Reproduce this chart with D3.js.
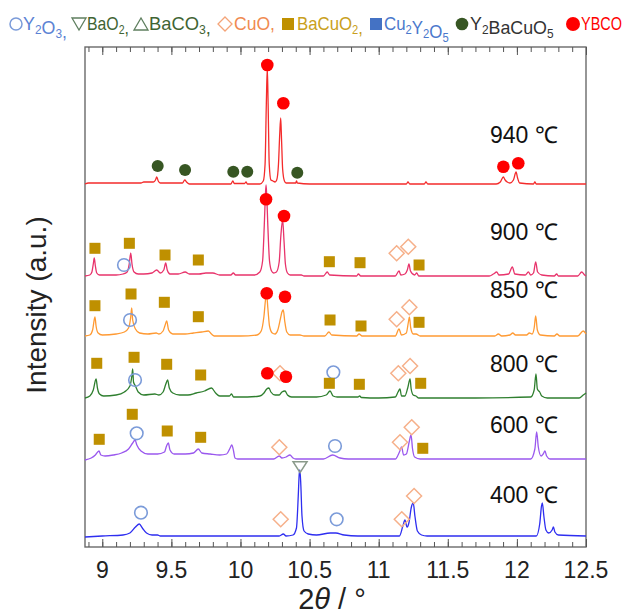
<!DOCTYPE html>
<html><head><meta charset="utf-8">
<script src="https://cdn.jsdelivr.net/npm/d3@7"></script>
<style>body{margin:0;background:#fff}svg{display:block}text{font-family:"Liberation Sans",Arial,sans-serif}</style>
</head><body><svg id="c" width="628" height="615"></svg>
<script>
// ---------- DATA ----------
const temps = ["940", "900", "850", "800", "600", "400"];
const offsets = [363, 271, 211, 149, 88, 11];
const traceColors = ["#f42b2b", "#e8336b", "#ff9a33", "#2f7f2f", "#9a58ee", "#2e2ef0"];
const xTickLabels = [9, 9.5, 10, 10.5, 11, 11.5, 12, 12.5];

const t940 = [[8.875,0],[8.90,1],[9.06,1],[9.28,1],[9.30,2],[9.37,2],[9.385,4],[9.394,7],[9.405,3],[9.42,1],[9.58,1],[9.597,4],[9.61,2],[9.63,0],[9.93,0],[9.945,3],[9.955,0.5],[10.03,0.5],[10.04,2],[10.05,0],[10.14,0],[10.165,3],[10.178,20],[10.187,80],[10.194,116],[10.200,80],[10.208,20],[10.22,4],[10.235,3],[10.25,2],[10.262,4],[10.275,20],[10.284,50],[10.291,66],[10.297,45],[10.305,15],[10.318,3],[10.33,1],[10.40,1],[10.405,3],[10.412,1],[10.5,0],[11.20,0],[11.212,2],[11.225,0],[11.33,0],[11.342,2],[11.355,0],[11.85,0],[11.88,2],[11.902,7],[11.915,4],[11.93,2],[11.95,1],[11.975,4],[11.994,12],[12.005,6],[12.02,1],[12.12,0],[12.13,2],[12.14,0],[12.5,0]];
const t900 = [[8.875,0],[8.91,1],[8.925,4],[8.935,12],[8.942,18],[8.95,10],[8.96,3],[8.98,1],[9.10,1],[9.15,2],[9.18,4],[9.195,12],[9.206,23],[9.215,12],[9.23,4],[9.26,2],[9.30,2],[9.36,3],[9.394,6],[9.42,3],[9.445,6],[9.459,13],[9.47,6],[9.49,2],[9.55,2],[9.60,4],[9.63,2],[9.70,2],[9.75,3],[9.80,3],[9.85,1],[9.93,1],[9.948,3],[9.965,1],[10.10,1],[10.14,4],[10.16,15],[10.172,50],[10.18,80],[10.185,91],[10.19,80],[10.198,50],[10.21,15],[10.225,5],[10.24,3],[10.26,4],[10.28,14],[10.292,40],[10.305,56],[10.315,35],[10.325,12],[10.34,3],[10.36,1],[10.44,1],[10.46,0],[10.60,0],[10.628,4],[10.645,1],[10.84,0],[10.853,2],[10.87,0],[11.12,0],[11.147,5],[11.16,1],[11.19,2],[11.207,6],[11.219,12],[11.23,5],[11.26,1],[11.275,3],[11.29,0],[11.80,0],[11.83,2],[11.854,4],[11.87,1],[11.94,2],[11.967,9],[11.985,2],[12.06,1],[12.083,4],[12.10,1],[12.12,3],[12.136,14],[12.15,4],[12.18,1],[12.27,0],[12.288,2],[12.30,0],[12.44,0],[12.469,4],[12.49,1],[12.5,0]];
const t850 = [[8.875,0],[8.91,1],[8.93,6],[8.947,19],[8.955,10],[8.97,3],[9.00,1],[9.10,2],[9.16,4],[9.19,8],[9.205,18],[9.213,28],[9.22,16],[9.24,7],[9.27,3],[9.33,2],[9.39,3],[9.41,2],[9.44,5],[9.455,11],[9.466,15],[9.48,6],[9.51,2],[9.60,2],[9.66,3],[9.72,4],[9.767,5],[9.79,2],[9.81,0],[10.0,0],[10.12,1],[10.15,5],[10.17,20],[10.182,37],[10.19,40],[10.198,28],[10.21,10],[10.23,3],[10.25,2],[10.27,6],[10.29,18],[10.30,24],[10.31,26],[10.32,15],[10.335,4],[10.36,1],[10.43,1],[10.46,0],[10.61,0],[10.64,4],[10.66,1],[10.84,0],[10.858,2],[10.88,0],[11.12,0],[11.147,7],[11.165,1],[11.20,3],[11.215,14],[11.222,19],[11.232,8],[11.25,2],[11.27,2],[11.30,0],[11.84,0],[11.866,2],[11.89,0],[11.95,1],[11.97,3],[11.99,1],[12.07,1],[12.09,3],[12.11,2],[12.125,8],[12.136,20],[12.148,6],[12.17,1],[12.27,0],[12.29,2],[12.31,0],[12.44,0],[12.48,5],[12.5,2]];
const t800 = [[8.875,0],[8.91,2],[8.935,8],[8.955,19],[8.965,10],[8.98,4],[9.01,2],[9.10,3],[9.16,6],[9.20,12],[9.214,22],[9.22,29],[9.226,16],[9.24,12],[9.26,6],[9.30,3],[9.38,4],[9.41,3],[9.44,6],[9.46,14],[9.473,18],[9.485,10],[9.51,5],[9.56,3],[9.62,3],[9.68,5],[9.74,7],[9.79,10],[9.82,5],[9.85,2],[9.92,2],[9.935,4],[9.95,1],[10.05,1],[10.14,2],[10.17,5],[10.19,9],[10.206,10],[10.22,6],[10.25,3],[10.28,3],[10.30,6],[10.322,7],[10.34,3],[10.37,1],[10.45,1],[10.55,1],[10.62,3],[10.648,7],[10.67,2],[10.70,1],[10.85,1],[10.862,2],[10.875,0.5],[11.0,0],[11.12,1],[11.14,6],[11.154,9],[11.165,2],[11.19,2],[11.21,10],[11.227,19],[11.235,9],[11.25,3],[11.27,2],[11.29,0],[11.70,0],[12.10,1],[12.125,8],[12.138,24],[12.148,9],[12.165,6],[12.18,2],[12.22,0],[12.45,0],[12.48,3],[12.5,5]];
const t600 = [[8.875,-1],[8.92,1],[8.95,4],[8.976,8],[8.99,4],[9.02,3],[9.08,4],[9.14,6],[9.19,10],[9.22,16],[9.237,19],[9.25,14],[9.28,8],[9.33,5],[9.40,5],[9.45,7],[9.465,13],[9.478,16],[9.49,9],[9.52,5],[9.60,5],[9.66,6],[9.695,10],[9.72,6],[9.78,5],[9.85,4],[9.90,5],[9.925,11],[9.937,14],[9.95,8],[9.96,1],[9.98,0],[10.24,0],[10.281,3],[10.30,1],[10.33,2],[10.358,4],[10.38,1],[10.40,0],[10.60,0],[10.667,4],[10.72,1],[10.78,0],[11.12,0],[11.15,7],[11.166,12],[11.18,4],[11.20,5],[11.222,18],[11.234,24],[11.245,10],[11.26,2],[11.30,0],[12.10,0],[12.13,10],[12.143,27],[12.155,12],[12.175,3],[12.19,5],[12.203,8],[12.215,3],[12.24,0],[12.5,0]];
const t400 = [[8.875,-1],[9.0,0],[9.15,1],[9.20,3],[9.24,9],[9.268,12],[9.29,8],[9.32,3],[9.36,1],[9.40,1],[9.42,0],[10.28,0],[10.31,2],[10.33,0],[10.38,1],[10.405,8],[10.418,40],[10.425,62],[10.43,66],[10.437,50],[10.445,20],[10.46,5],[10.49,2],[10.55,1],[10.65,3],[10.69,3],[10.75,1],[10.85,0],[11.15,0],[11.175,10],[11.19,16],[11.205,9],[11.22,14],[11.235,28],[11.25,33],[11.262,20],[11.28,5],[11.31,1],[11.35,0],[12.14,0],[12.165,12],[12.178,30],[12.184,33],[12.195,20],[12.21,6],[12.23,3],[12.255,6],[12.264,9],[12.275,4],[12.30,1],[12.5,0]];
const traces = [t940, t900, t850, t800, t600, t400];

// phase markers: [2theta, stacked intensity]
const mY2O3 = [[9.157,282],[9.201,227],[9.237,167],[10.672,174.7],[9.249,113.7],[10.684,101],[9.280,34.3],[10.696,27.7]];
const mBaO2 = [[10.431,80.3]];
const mCuO = [[11.130,293.7],[11.214,300.3],[11.130,227.7],[11.222,239.7],[10.286,173.7],[11.142,173.7],[11.227,181],[10.281,99.7],[11.154,104.7],[11.239,119.7],[10.291,27.7],[11.167,27.7],[11.256,51]];
const mBaCuO2 = [[8.947,298.7],[9.196,303.7],[9.454,292],[9.695,287],[10.643,285.3],[10.865,284.3],[11.292,282],
  [8.947,241.3],[9.208,253],[9.449,244.7],[9.695,230.3],[10.648,227],[10.872,221],[11.292,224.7],
  [8.960,183.7],[9.230,189.7],[9.466,182.7],[9.712,172],[10.643,163.7],[10.860,162.7],[11.304,163.7],
  [8.978,107.7],[9.217,132.7],[9.470,116],[9.712,109.7],[11.319,98.7]];
const mY211 = [[9.401,381],[9.599,377],[9.948,375.3],[10.049,375.3],[10.411,374.3]];
const mYBCO = [[10.194,482],[10.310,443.7],[11.902,380.3],[12.010,383.7],[10.185,347.7],[10.315,331],[10.190,253.7],[10.322,250.3],[10.194,173.7],[10.329,170.3]];

// label heights (stacked intensity units)
const labelY = [403.7, 307, 248.7, 175.3, 113.7, 43.7];

// ---------- CHART ----------
const svg = d3.select("#c");
const x = d3.scaleLinear().domain([8.875, 12.5]).range([85, 586]);
const y = d3.scaleLinear().domain([0, 500]).range([547, 47]);

// frame
svg.append("rect").attr("x",85).attr("y",47).attr("width",501).attr("height",500)
  .attr("fill","none").attr("stroke","#6a6a6a").attr("stroke-width",1.4);

// ticks
const minor = d3.range(89, 126).map(d => d/10);
const major = xTickLabels;
svg.append("g").attr("transform","translate(0,547)")
  .call(d3.axisBottom(x).tickValues(minor).tickSize(-5).tickFormat(""));
svg.append("g").attr("transform","translate(0,547)")
  .call(d3.axisBottom(x).tickValues(major).tickSize(-8).tickFormat(""));
svg.append("g").attr("transform","translate(0,47)")
  .call(d3.axisTop(x).tickValues(minor).tickSize(-5).tickFormat(""));
svg.append("g").attr("transform","translate(0,47)")
  .call(d3.axisTop(x).tickValues(major).tickSize(-8).tickFormat(""));
svg.selectAll(".domain").remove();
svg.selectAll(".tick line").attr("stroke","#555").attr("stroke-width",1);

svg.append("g").selectAll("text").data(xTickLabels).join("text")
  .attr("x", d => x(d)).attr("y", 578).attr("text-anchor","middle")
  .attr("font-size",23).attr("fill","#222").text(d => String(d));

// x title
const xt = svg.append("text").attr("x",332).attr("y",609).attr("text-anchor","middle")
  .attr("font-size",29).attr("fill","#222");
xt.append("tspan").text("2");
xt.append("tspan").attr("font-style","italic").text("θ");
xt.append("tspan").text(" / °");

// y title
svg.append("text").attr("transform","translate(46,305) rotate(-90)").attr("text-anchor","middle")
  .attr("font-size",28).attr("fill","#222").text("Intensity (a.u.)");

// traces
const line = d3.line().x(d => x(d[0])).curve(d3.curveMonotoneX);
traces.forEach((t, i) => {
  svg.append("path").datum(t)
    .attr("d", line.y(d => y(d[1] + offsets[i])))
    .attr("fill","none").attr("stroke",traceColors[i]).attr("stroke-width",1.3)
    .attr("stroke-linejoin","round");
});

// temperature labels
svg.append("g").selectAll("text").data(temps).join("text")
  .attr("x",490).attr("y",(d,i) => y(labelY[i]))
  .attr("font-size",23).attr("fill","#111").text(d => d + " ℃");

// markers
const mk = svg.append("g");
mk.selectAll(".y2o3").data(mY2O3).join("circle")
  .attr("cx",d=>x(d[0])).attr("cy",d=>y(d[1])).attr("r",6.3)
  .attr("fill","none").attr("stroke","#7b9bd9").attr("stroke-width",1.6);
mk.selectAll(".cuo").data(mCuO).join("path")
  .attr("d",d=>{const cx=x(d[0]),cy=y(d[1]),s=7.5;return `M${cx},${cy-s}L${cx+s},${cy}L${cx},${cy+s}L${cx-s},${cy}Z`;})
  .attr("fill","none").attr("stroke","#f6b08a").attr("stroke-width",1.5);
mk.selectAll(".bacuo2").data(mBaCuO2).join("rect")
  .attr("x",d=>x(d[0])-5.5).attr("y",d=>y(d[1])-5.5).attr("width",11).attr("height",11)
  .attr("fill","#bf9000");
mk.selectAll(".bao2").data(mBaO2).join("path")
  .attr("d",d=>{const cx=x(d[0]),cy=y(d[1]);return `M${cx-7},${cy-5}L${cx+7},${cy-5}L${cx},${cy+6}Z`;})
  .attr("fill","none").attr("stroke","#8a9a8a").attr("stroke-width",1.5);
mk.selectAll(".y211").data(mY211).join("circle")
  .attr("cx",d=>x(d[0])).attr("cy",d=>y(d[1])).attr("r",6)
  .attr("fill","#375623");
mk.selectAll(".ybco").data(mYBCO).join("circle")
  .attr("cx",d=>x(d[0])).attr("cy",d=>y(d[1])).attr("r",6.3)
  .attr("fill","#ff0000");

// legend
const lg = svg.append("g").attr("font-size",18);
function sub(t, s){ t.append("tspan").attr("font-size",12).attr("dy",4).text(s); t.append("tspan").attr("dy",-4).text(""); }
function legText(xp, color, parts, len){
  const t = lg.append("text").attr("x",0).attr("y",0).attr("fill",color);
  parts.forEach(p => { if (typeof p === "string") t.append("tspan").text(p); else sub(t, p[0]); });
  const w = t.node().getBBox().width || len;
  t.attr("transform", `translate(${xp},30) scale(${len/w},1)`);
}
lg.append("circle").attr("cx",16).attr("cy",24).attr("r",6).attr("fill","none").attr("stroke","#7b9bd9").attr("stroke-width",1.5);
legText(23, "#5b82d4", ["Y",["2"],"O",["3"],","], 44);
lg.append("path").attr("d","M72,18L86,18L79,30Z").attr("fill","none").attr("stroke","#5f7f5f").attr("stroke-width",1.3);
legText(87, "#3f6433", ["BaO",["2"],","], 42);
lg.append("path").attr("d","M134,30L148,30L141,18Z").attr("fill","none").attr("stroke","#5f7f5f").attr("stroke-width",1.3);
legText(149, "#3f6433", ["BaCO",["3"],","], 62);
lg.append("path").attr("d","M225,17L232,24L225,31L218,24Z").attr("fill","none").attr("stroke","#f4a478").attr("stroke-width",1.3);
legText(234, "#f08a50", ["CuO,"], 41);
lg.append("rect").attr("x",282).attr("y",18).attr("width",12).attr("height",12).attr("fill","#bf9000");
legText(297, "#c9a020", ["BaCuO",["2"],","], 66);
lg.append("rect").attr("x",370).attr("y",18).attr("width",12).attr("height",12).attr("fill","#4472c4");
legText(384, "#4a78cc", ["Cu",["2"],"Y",["2"],"O",["5"]], 65);
lg.append("circle").attr("cx",462).attr("cy",24).attr("r",6.3).attr("fill","#375623");
legText(470, "#333", ["Y",["2"],"BaCuO",["5"]], 84);
lg.append("circle").attr("cx",573).attr("cy",24).attr("r",7).attr("fill","#ff0000");
legText(581, "#ff0000", ["YBCO"], 41);
</script></body></html>
